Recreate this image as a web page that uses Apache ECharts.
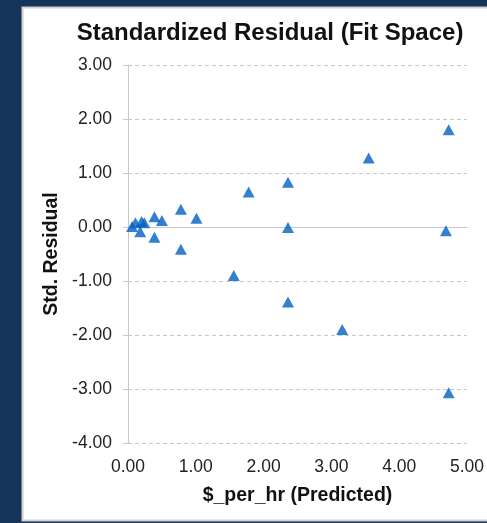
<!DOCTYPE html>
<html>
<head>
<meta charset="utf-8">
<script src="https://cdn.jsdelivr.net/npm/echarts@6/dist/echarts.min.js"></script>
<style>
html,body{margin:0;padding:0;background:#14345a;}
#c{width:487px;height:523px;}
</style>
</head>
<body>
<div id="c"></div>
<script>
var titleText = "Standardized Residual (Fit Space)";
var xAxisName = "$_per_hr (Predicted)";
var yAxisName = "Std. Residual";
var xPredicted = [0.06, 0.11, 0.20, 0.24, 0.18, 0.39, 0.50, 0.39, 0.78, 0.78, 1.01, 1.56, 1.78, 2.36, 2.36, 2.36, 3.16, 3.55, 4.69, 4.73, 4.73];
var stdResidual = [0.01, 0.08, 0.10, 0.08, -0.09, 0.19, 0.12, -0.19, 0.33, -0.41, 0.16, -0.90, 0.65, 0.83, -0.01, -1.39, -1.90, 1.28, -0.07, 1.80, -3.07];
var xMin = 0, xMax = 5, xStep = 1;
var yMin = -4, yMax = 3, yStep = 1;

var pts = xPredicted.map(function(x, i){ return [x, stdResidual[i]]; });
var chart = echarts.init(document.getElementById('c'), null, {renderer:'canvas'});
var font = "'Liberation Sans', Arial, sans-serif";
chart.setOption({
  backgroundColor: '#14345a',
  animation: false,
  graphic: [{
    type: 'rect', z: -10,
    shape: {x: 22.5, y: 7.5, width: 480, height: 513},
    style: {fill: '#ffffff', stroke: '#d0d0d0', lineWidth: 2}
  }],
  title: {
    text: titleText, left: 265, top: 16, textAlign: 'center',
    textStyle: {fontFamily: font, fontSize: 24, fontWeight: 'bold', color: '#111'}
  },
  grid: {left: 128, right: 19, top: 65, bottom: 80},
  xAxis: {
    type: 'value', min: xMin, max: xMax, interval: xStep,
    name: xAxisName, nameLocation: 'middle', nameGap: 43,
    nameTextStyle: {fontFamily: font, fontSize: 19.5, fontWeight: 'bold', color: '#111'},
    axisLine: {show: true, lineStyle: {color: '#c8c8c8', width: 1}},
    axisTick: {show: false},
    splitLine: {show: false},
    axisLabel: {fontFamily: font, fontSize: 17.5, color: '#222', margin: 15,
      formatter: function(v){ return v.toFixed(2); }}
  },
  yAxis: {
    type: 'value', min: yMin, max: yMax, interval: yStep,
    name: yAxisName, nameLocation: 'middle', nameGap: 64,
    nameTextStyle: {fontFamily: font, fontSize: 19.5, fontWeight: 'bold', color: '#111'},
    axisLine: {show: true, lineStyle: {color: '#c8c8c8', width: 1}},
    axisTick: {show: true, length: 5, lineStyle: {color: '#c8c8c8'}},
    splitLine: {show: true, lineStyle: {color: '#c8c8c8', type: [4, 3], width: 1}},
    axisLabel: {fontFamily: font, fontSize: 17.5, color: '#222', margin: 16,
      formatter: function(v){ return v.toFixed(2); }}
  },
  series: [{
    type: 'scatter', data: pts, symbol: 'triangle', symbolSize: [12, 11],
    itemStyle: {color: '#0060c6'}
  }]
});
</script>
</body>
</html>
